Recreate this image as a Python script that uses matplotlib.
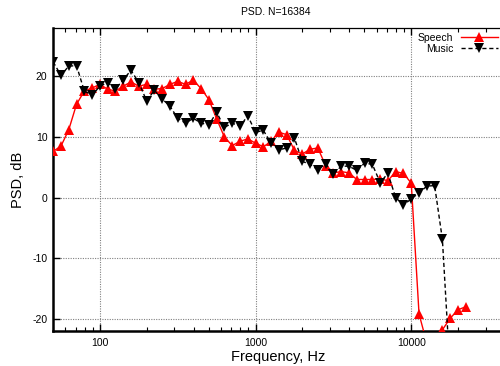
import numpy as np
import matplotlib
matplotlib.use("Agg")
import matplotlib.pyplot as plt
from matplotlib.ticker import LogLocator, FixedLocator, NullFormatter

plt.rcParams['font.family'] = ['Liberation Sans', 'DejaVu Sans']

# Frequency bands: 20 per decade starting at ~50 Hz
freq = 10 ** (1.7 + 0.05 * np.arange(54))

speech_db = [7.65, 8.5, 11.2, 15.4, 17.6, 18.1, 18.7, 17.9, 17.6, 18.4,
             19.1, 18.4, 18.7, 17.9, 18.0, 18.7, 19.2, 18.7, 19.4, 18.0,
             16.2, 13.0, 10.0, 8.6, 9.3, 9.7, 9.0, 8.4, 9.3, 10.8,
             10.4, 7.8, 7.2, 8.0, 8.2, 5.3, 4.1, 4.3, 4.1, 3.0,
             3.0, 3.0, 3.1, 2.8, 4.3, 4.0, 2.4, -19.2, -24.0, -25.0,
             -21.8, -19.9, -18.5, -18.0]

music_db = [22.4, 20.2, 21.7, 21.8, 17.6, 16.9, 18.4, 19.0, 17.9, 19.5,
            21.0, 19.0, 16.0, 17.7, 16.3, 15.1, 13.1, 12.3, 13.1, 12.3,
            12.0, 14.1, 11.6, 12.3, 11.8, 13.5, 10.8, 11.1, 9.0, 7.9,
            8.2, 9.8, 6.0, 5.5, 4.6, 5.6, 3.9, 5.2, 5.2, 4.5,
            5.7, 5.5, 2.5, 4.0, 0.0, -1.2, -0.2, 0.8, 1.9, 2.0,
            -6.9, -29.0, -31.0, -31.0]

x_ticks = [100, 1000, 10000]
x_ticklabels = ['100', '1000', '10000']
y_ticks = [-20, -10, 0, 10, 20]
y_ticklabels = ['-20', '-10', '0', '10', '20']

fig = plt.figure(figsize=(5.0, 3.66), dpi=100)
ax = fig.add_axes([53/500, 35/366, 452/500, 303/366])

ax.plot(freq, speech_db, color='#ff0000', lw=1.0, ls='-', marker='^',
        markersize=7.5, markeredgewidth=0, label='Speech', zorder=3)
ax.plot(freq, music_db, color='black', lw=1.0, ls=(0, (3, 2)), marker='v',
        markersize=7.5, markeredgewidth=0, label='Music', zorder=4)

ax.set_xscale('log')
ax.set_xlim(50, 40000)
ax.set_ylim(-22, 28)

ax.xaxis.set_major_locator(FixedLocator(x_ticks))
ax.set_xticklabels(x_ticklabels)
ax.xaxis.set_minor_locator(LogLocator(base=10, subs=np.arange(2, 10)))
ax.xaxis.set_minor_formatter(NullFormatter())
ax.set_yticks(y_ticks)
ax.set_yticklabels(y_ticklabels)

ax.tick_params(axis='both', which='major', direction='in', length=5, width=1,
               labelsize=7.5, top=True, right=False, pad=5)
ax.tick_params(axis='x', which='minor', direction='in', length=3, width=0.8,
               top=True)
ax.tick_params(axis='y', pad=4)

ax.grid(True, which='major', color='#808080', linestyle=(0, (1, 1.2)), lw=0.8)

for s in ['left', 'bottom']:
    ax.spines[s].set_linewidth(1.8)
ax.spines['top'].set_linewidth(0.9)
ax.spines['right'].set_visible(False)

fig.text(276/500, 1 - 12/366, 'PSD. N=16384', ha='center', va='center', fontsize=7.5)
fig.text(278/500, 1 - 357/366, 'Frequency, Hz', ha='center', va='center', fontsize=10.5)
fig.text(18/500, 1 - 180/366, 'PSD, dB', ha='center', va='center', fontsize=10.5, rotation=90)

leg = ax.legend(loc='upper right', bbox_to_anchor=(498/500, 1 - 33/366),
                bbox_transform=fig.transFigure, frameon=False, markerfirst=False,
                fontsize=7.5, handlelength=3.6, handletextpad=0.7,
                labelspacing=0.05, borderpad=0, borderaxespad=0, numpoints=1)

fig.savefig('out.png', dpi=100)
